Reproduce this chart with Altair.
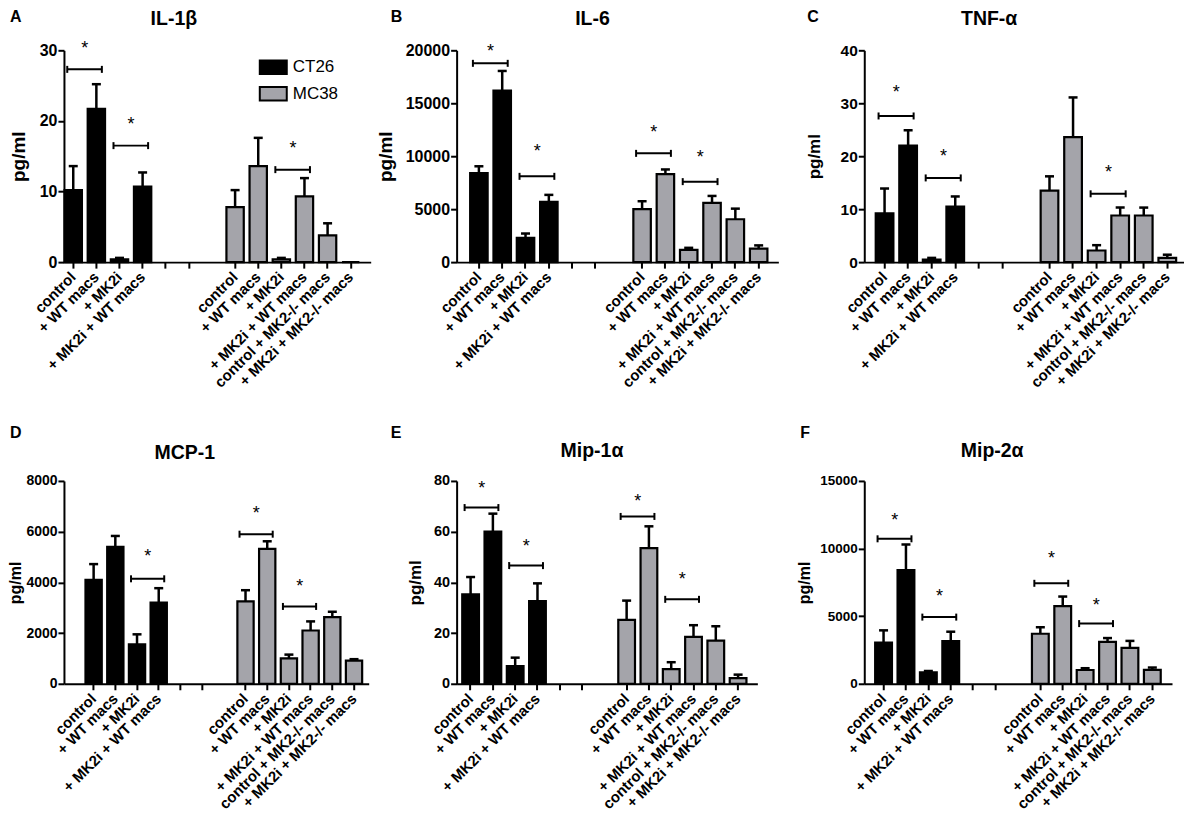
import altair as alt
import pandas as pd

FONT = "Liberation Sans"

# ---------------- categories ----------------
ct26_labels = ["control", "+ WT macs", "+ MK2i", "+ MK2i + WT macs"]
mc38_labels = ["control", "+ WT macs", "+ MK2i", "+ MK2i + WT macs",
               "control + MK2-/- macs", "+ MK2i + MK2-/- macs"]
groups = ["CT26", "MC38"]
group_colors = ["#000000", "#a4a4aa"]

panel_letters = ["A", "B", "C", "D", "E", "F"]
panel_titles = ["IL-1β", "IL-6", "TNF-α", "MCP-1", "Mip-1α", "Mip-2α"]
y_max = [30, 20000, 40, 8000, 80, 15000]
y_step = [10, 5000, 10, 2000, 20, 5000]

# ---------------- values (mean, upper end of error bar) ----------------
il1b_ct26_mean = [10.2, 21.7, 0.4, 10.7]
il1b_ct26_upper = [13.6, 25.2, 0.6, 12.7]
il1b_mc38_mean = [7.8, 13.6, 0.4, 9.3, 3.8, 0.0]
il1b_mc38_upper = [10.2, 17.6, 0.6, 11.9, 5.5, 0.0]
il1b_sig = [("CT26", 0, 1, 27.3, 30.8), ("CT26", 2, 3, 16.5, 20.0), ("MC38", 2, 3, 13.1, 16.6)]

il6_ct26_mean = [8400, 16200, 2300, 5700]
il6_ct26_upper = [9050, 18050, 2700, 6350]
il6_mc38_mean = [5000, 8300, 1150, 5600, 4050, 1280]
il6_mc38_upper = [5750, 8750, 1350, 6250, 5050, 1580]
il6_sig = [("CT26", 0, 1, 18770, 20250), ("CT26", 2, 3, 8100, 10800),
           ("MC38", 0, 1, 10270, 12600), ("MC38", 2, 3, 7600, 10170)]

tnf_ct26_mean = [9.2, 22.0, 0.5, 10.5]
tnf_ct26_upper = [13.9, 24.9, 0.8, 12.4]
tnf_mc38_mean = [13.5, 23.6, 2.2, 8.8, 8.8, 0.8]
tnf_mc38_upper = [16.2, 31.1, 3.2, 10.3, 10.3, 1.4]
tnf_sig = [("CT26", 0, 1, 27.6, 32.7), ("CT26", 2, 3, 15.9, 20.6), ("MC38", 2, 3, 12.9, 17.5)]

mcp1_ct26_mean = [4100, 5400, 1550, 3200]
mcp1_ct26_upper = [4720, 5830, 1950, 3770]
mcp1_mc38_mean = [3250, 5320, 1000, 2100, 2630, 910]
mcp1_mc38_upper = [3690, 5620, 1150, 2460, 2840, 970]
mcp1_sig = [("CT26", 2, 3, 4140, 5150), ("MC38", 0, 1, 5900, 6850), ("MC38", 2, 3, 3050, 3970)]

mip1a_ct26_mean = [35.3, 60.0, 7.0, 32.6]
mip1a_ct26_upper = [42.1, 67.1, 10.3, 39.6]
mip1a_mc38_mean = [25.2, 53.5, 5.8, 18.5, 17.0, 2.2]
mip1a_mc38_upper = [32.8, 62.1, 8.5, 23.1, 22.7, 3.6]
mip1a_sig = [("CT26", 0, 1, 69.5, 78.4), ("CT26", 2, 3, 46.6, 55.7),
             ("MC38", 0, 1, 66.0, 73.4), ("MC38", 2, 3, 33.3, 42.6)]

mip2a_ct26_mean = [3050, 8400, 850, 3150]
mip2a_ct26_upper = [3950, 10300, 950, 3850]
mip2a_mc38_mean = [3700, 5740, 1020, 3100, 2650, 1030]
mip2a_mc38_upper = [4180, 6450, 1150, 3380, 3170, 1200]
mip2a_sig = [("CT26", 0, 1, 10720, 12310), ("CT26", 2, 3, 4930, 6690),
             ("MC38", 0, 1, 7430, 9500), ("MC38", 2, 3, 4450, 6080)]

# ---------------- per-panel layout styles ----------------
styles = [
    dict(w=307, h=212, po=0.258, al=0.052, step=23.14, dx=-43.5, off=25.5, lx=-54, ly=-41, ylab=16, ytit=19, tpad=11),
    dict(w=322, h=212, po=0.525, al=0.553, step=23.33, dx=-25, off=25.5, lx=-66, ly=-41, ylab=16, ytit=19, tpad=10),
    dict(w=320, h=212, po=0.41, al=0.593, step=23.58, dx=-35, off=25.5, lx=-57, ly=-41, ylab=15.5, ytit=17, tpad=17),
    dict(w=305, h=203, po=0.647, al=0.767, step=21.72, dx=-31.5, off=22, lx=-54, ly=-56, ylab=14, ytit=16, tpad=2),
    dict(w=301, h=203, po=0.371, al=0.34, step=22.31, dx=-15, off=24, lx=-66, ly=-56, ylab=14.5, ytit=17, tpad=9),
    dict(w=308, h=203, po=0.495, al=0.491, step=22.42, dx=-26, off=24, lx=-64, ly=-56, ylab=13.5, ytit=16, tpad=7),
]


def key(group, i):
    if group == "CT26":
        lab = ct26_labels[i] if i < len(ct26_labels) else ""
    else:
        lab = mc38_labels[i]
    return f"{group}|{i}|{lab}"


x_domain = [key("CT26", i) for i in range(6)] + ["gap||"] + [key("MC38", i) for i in range(6)]


def panel(idx, ct_mean, ct_up, mc_mean, mc_up, sig):
    st = styles[idx]
    rows = []
    for i, (m, u) in enumerate(zip(ct_mean, ct_up)):
        rows.append({"key": key("CT26", i), "group": "CT26", "mean": m, "upper": u})
    for i, (m, u) in enumerate(zip(mc_mean, mc_up)):
        rows.append({"key": key("MC38", i), "group": "MC38", "mean": m, "upper": u})
    df = pd.DataFrame(rows)
    sdf = pd.DataFrame([{"k1": key(g, i), "k2": key(g, j), "y": y, "ys": ys, "star": "*"}
                        for g, i, j, y, ys in sig])
    ldf = pd.DataFrame({"letter": [panel_letters[idx]], "title": [panel_titles[idx]]})

    xscale = alt.Scale(domain=x_domain, paddingInner=0.25, paddingOuter=st["po"], align=st["al"])
    xaxis = alt.Axis(title=None, labelExpr="split(datum.value, '|')[2]", labelAngle=-45,
                     labelAlign="right", labelBaseline="middle", labelFontSize=15,
                     labelPadding=6, labelOverlap=False,
                     tickOpacity={"condition": {"test": "datum.value === 'gap||'", "value": 0}, "value": 1})
    yscale = alt.Scale(domain=[0, y_max[idx]], nice=False)
    yaxis = alt.Axis(title="pg/ml", values=list(range(0, y_max[idx] + 1, y_step[idx])), format="d",
                     labelFontSize=st["ylab"], titleFontSize=st["ytit"], titlePadding=st["tpad"],
                     labelPadding=1)

    if idx == 0:
        legend = alt.Legend(title=None, orient="none", legendX=199.5, legendY=7,
                            symbolType="M-1.5,-0.75L1.5,-0.75L1.5,0.75L-1.5,0.75Z",
                            symbolSize=324, symbolStrokeColor="black", symbolStrokeWidth=2,
                            symbolOpacity=1, labelFont=FONT, labelFontSize=17, labelColor="black",
                            labelOffset=9.5, rowPadding=4.5, padding=0)
    else:
        legend = None
    color = alt.Color("group:N", scale=alt.Scale(domain=groups, range=group_colors), legend=legend)

    X = lambda f: alt.X(f"{f}:N", scale=xscale, axis=xaxis)
    Yq = lambda f: alt.Y(f"{f}:Q", scale=yscale, axis=yaxis)

    base = alt.Chart(df)
    bars = base.mark_bar(stroke="black", strokeWidth=2.2).encode(x=X("key"), y=Yq("mean"), color=color)
    err = base.mark_rule(color="black", strokeWidth=2.5).encode(
        x=X("key"), y=Yq("mean"), y2=alt.Y2("upper")).transform_filter("datum.upper > datum.mean")
    cap = base.mark_tick(color="black", thickness=2.5, size=9, opacity=1).encode(
        x=X("key"), y=Yq("upper")).transform_filter("datum.upper > datum.mean")

    sb = alt.Chart(sdf)
    bracket = sb.mark_rule(color="black", strokeWidth=2, xOffset=-6, x2Offset=5.5).encode(
        x=X("k1"), x2=alt.X2("k2"), y=Yq("y"))
    capl = sb.mark_rule(color="black", strokeWidth=2, xOffset=-6, yOffset=-3.5, y2Offset=3.5).encode(
        x=X("k1"), y=Yq("y"), y2=alt.Y2("y"))
    capr = sb.mark_rule(color="black", strokeWidth=2, xOffset=5.5, yOffset=-3.5, y2Offset=3.5).encode(
        x=X("k2"), y=Yq("y"), y2=alt.Y2("y"))
    stars = sb.mark_text(font=FONT, fontSize=18, baseline="middle", dy=4, xOffset=st["step"] / 2,
                         color="black").encode(x=X("k1"), y=Yq("ys"), text="star:N")

    annot = alt.Chart(ldf)
    letter = annot.mark_text(font=FONT, fontSize=16, fontWeight="bold", align="left",
                             baseline="top", color="black").encode(
        x=alt.value(st["lx"]), y=alt.value(st["ly"]), text="letter:N")
    title = annot.mark_text(font=FONT, fontSize=19.5, fontWeight="bold", align="center",
                            baseline="alphabetic", color="black").encode(
        x=alt.value(st["w"] / 2 + st["dx"]), y=alt.value(-st["off"]), text="title:N")

    return alt.layer(bars, err, cap, bracket, capl, capr, stars, letter, title).properties(
        width=st["w"], height=st["h"])


panels = [
    panel(0, il1b_ct26_mean, il1b_ct26_upper, il1b_mc38_mean, il1b_mc38_upper, il1b_sig),
    panel(1, il6_ct26_mean, il6_ct26_upper, il6_mc38_mean, il6_mc38_upper, il6_sig),
    panel(2, tnf_ct26_mean, tnf_ct26_upper, tnf_mc38_mean, tnf_mc38_upper, tnf_sig),
    panel(3, mcp1_ct26_mean, mcp1_ct26_upper, mcp1_mc38_mean, mcp1_mc38_upper, mcp1_sig),
    panel(4, mip1a_ct26_mean, mip1a_ct26_upper, mip1a_mc38_mean, mip1a_mc38_upper, mip1a_sig),
    panel(5, mip2a_ct26_mean, mip2a_ct26_upper, mip2a_mc38_mean, mip2a_mc38_upper, mip2a_sig),
]

chart = alt.concat(*panels, columns=3, bounds="flush", spacing={"row": 219, "column": 86}).resolve_scale(
    color="independent").resolve_legend(color="independent").properties(
    padding={"left": -1, "top": 0, "right": 0, "bottom": 0}, background="white"
).configure_view(stroke=None).configure_axis(
    domainColor="black", domainWidth=2, tickColor="black", tickWidth=2, tickSize=6,
    labelColor="black", labelFont=FONT, labelFontWeight="bold",
    titleFont=FONT, titleFontWeight="bold", titleColor="black", grid=False
)

chart.save("out.html", embed_options={"renderer": "svg", "actions": False})
